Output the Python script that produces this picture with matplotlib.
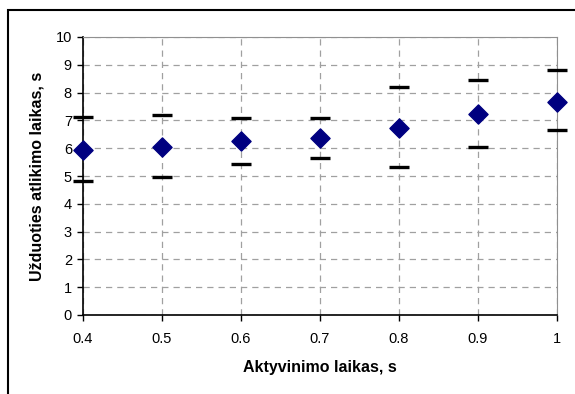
import numpy as np
import matplotlib
matplotlib.use("Agg")
import matplotlib.pyplot as plt
from matplotlib.patches import Rectangle

plt.rcParams['font.family'] = ['Liberation Sans', 'DejaVu Sans']

# activation time vs task time
act_time = [0.4, 0.5, 0.6, 0.7, 0.8, 0.9, 1.0]
mean_time = [5.95, 6.05, 6.25, 6.38, 6.71, 7.22, 7.67]
upper_time = [7.13, 7.19, 7.10, 7.09, 8.19, 8.44, 8.80]
lower_time = [4.82, 4.97, 5.43, 5.64, 5.33, 6.03, 6.64]

fig = plt.figure(figsize=(5.75, 3.94), dpi=100)
ax = fig.add_axes([83/575, 1-315/394, (557-83)/575, (315-37)/394])

# outer frame of the chart (right/bottom edges cut off)
fig.patches.append(Rectangle((8/575, -0.05), 1.2, 1-10/394+0.05, transform=fig.transFigure,
                             fill=False, edgecolor='black', linewidth=1.5))

ax.scatter(act_time, upper_time, marker='_', s=220, color='black', linewidths=2.4, zorder=3, clip_on=False)
ax.scatter(act_time, lower_time, marker='_', s=220, color='black', linewidths=2.4, zorder=3, clip_on=False)
ax.scatter(act_time, mean_time, marker='D', s=95, color='#000080', zorder=4, clip_on=False)

ax.set_xlim(0.4, 1.0)
ax.set_ylim(0, 10)
ax.set_xticks(act_time)
ax.set_xticklabels(['0.4', '0.5', '0.6', '0.7', '0.8', '0.9', '1'])
ax.set_yticks(range(11))
ax.grid(True, color='#a0a0a0', linestyle=(0, (5, 4)), linewidth=0.9)
ax.set_axisbelow(True)

ax.spines['top'].set_color('#909090')
ax.spines['right'].set_color('#909090')
ax.spines['left'].set_linewidth(1.2)
ax.spines['bottom'].set_linewidth(1.2)
ax.tick_params(axis='both', direction='out', length=4, width=1, labelsize=10.5, pad=4)
ax.tick_params(axis='x', pad=8)

ax.set_xlabel('Aktyvinimo laikas, s', fontsize=11.5, fontweight='bold', labelpad=10)
ax.set_ylabel('Užduoties atlikimo laikas, s', fontsize=11.5, fontweight='bold', labelpad=8)

fig.savefig('out.png', dpi=100)
